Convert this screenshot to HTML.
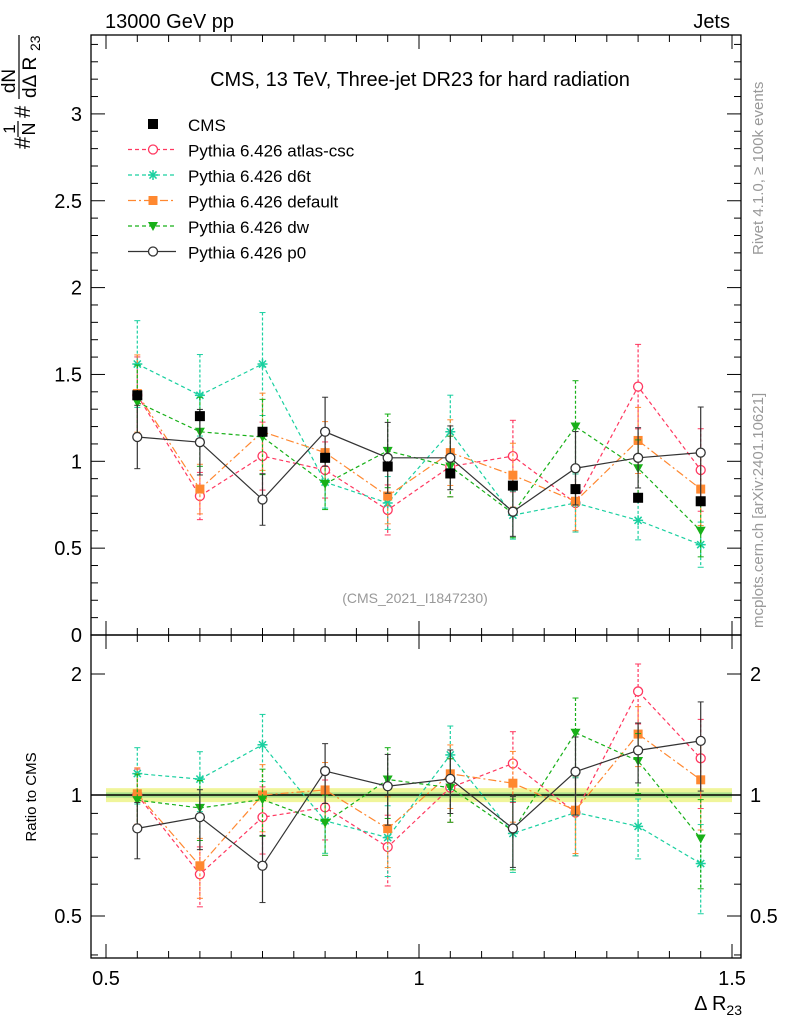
<!DOCTYPE html>
<html><head><meta charset="utf-8"><style>
body{margin:0;background:#fff;}
svg text{font-family:"Liberation Sans",sans-serif;}
</style></head><body>
<svg id="c" width="786" height="1024" xmlns="http://www.w3.org/2000/svg"></svg>
<script>
const binCenters=[0.55,0.65,0.75,0.85,0.95,1.05,1.15,1.25,1.35,1.45];
const cmsVals=[1.38,1.26,1.17,1.02,0.97,0.93,0.86,0.84,0.79,0.77];
const cmsErr=[0.03,0.03,0.03,0.03,0.03,0.03,0.03,0.03,0.03,0.03];
const atlasVals=[1.38,0.80,1.03,0.95,0.72,0.97,1.03,0.76,1.43,0.95];
const d6tVals=[1.56,1.38,1.56,0.88,0.76,1.17,0.69,0.76,0.66,0.52];
const defaultVals=[1.39,0.84,1.17,1.05,0.80,1.05,0.92,0.77,1.12,0.84];
const dwVals=[1.34,1.17,1.14,0.87,1.06,0.97,0.70,1.20,0.96,0.60];
const p0Vals=[1.14,1.11,0.78,1.17,1.02,1.02,0.71,0.96,1.02,1.05];
const mcRelErr=[0.16,0.17,0.19,0.17,0.2,0.18,0.2,0.22,0.17,0.25];
const mainTicks=[0,0.5,1,1.5,2,2.5,3];
const ratioTicks=[0.5,1,2];
const xTicks=[0.5,1,1.5];

const NS="http://www.w3.org/2000/svg";
const svg=document.getElementById('c');
function el(tag,attrs,parent){const e=document.createElementNS(NS,tag);for(const k in attrs)e.setAttribute(k,attrs[k]);(parent||svg).appendChild(e);return e;}
const L=91,R=741,T=35,M=635,B=958;
const xs=v=>106+(v-0.5)*626;
const ym=v=>635-v*173.7;
const yr=v=>795-Math.log2(v)*121;
function txt(x,y,s,size,anchor,fill,name){const t=el('text',{x:x,y:y,'font-size':size,'text-anchor':anchor||'start',fill:fill||'#000'});t.textContent=s;return t;}

// frames
let f1=el('rect',{x:L,y:T,width:R-L,height:M-T,fill:'none',stroke:'#000','stroke-width':1.3});

let f2=el('rect',{x:L,y:M,width:R-L,height:B-M,fill:'none',stroke:'#000','stroke-width':1.3});


// main y ticks
for(let v=0;v<=3.45;v+=0.1){const y=ym(v);if(y<T)break;const major=Math.abs(v/0.5-Math.round(v/0.5))<1e-6;const len=major?14:7;
 el('line',{x1:L,x2:L+len,y1:y,y2:y,stroke:'#000'});el('line',{x1:R,x2:R-len,y1:y,y2:y,stroke:'#000'});}
mainTicks.forEach(v=>txt(L-9,ym(v)+7,String(v),20,'end','#000','main-y-tick-label'));
// ratio y ticks (log)
[0.4,0.5,0.6,0.7,0.8,0.9,1,2].forEach(v=>{const y=yr(v);const major=ratioTicks.includes(v);const len=major?14:7;
 el('line',{x1:L,x2:L+len,y1:y,y2:y,stroke:'#000'});el('line',{x1:R,x2:R-len,y1:y,y2:y,stroke:'#000'});});
ratioTicks.forEach(v=>{txt(L-9,yr(v)+7,String(v),20,'end','#000','ratio-y-tick-label');txt(R+9,yr(v)+7,String(v),20,'start','#000','ratio-y-tick-label-right');});
// x ticks
for(let v=0.5;v<=1.5001;v+=0.05){const x=xs(v);const major=Math.abs(v*2-Math.round(v*2))<1e-6;const len=major?14:7;
 [[T,1],[M,1],[M,-1],[B,-1]].forEach(([y0,d])=>el('line',{x1:x,x2:x,y1:y0,y2:y0+d*len,stroke:'#000'}));}
xTicks.forEach(v=>txt(xs(v),985,String(v),20,'middle','#000','x-tick-label'));

// labels
txt(105,28,'13000 GeV pp',20,'start','#000','collision-label');
txt(730,28,'Jets',20,'end','#000','category-label');
txt(420,86,'CMS, 13 TeV, Three-jet DR23 for hard radiation',20,'middle','#000','plot-title');
txt(415,603,'(CMS_2021_I1847230)',14,'middle','#999','analysis-id');
let xl=el('text',{x:742,y:1010,'font-size':20,'text-anchor':'end'});xl.innerHTML='Δ R<tspan font-size="14" dy="5">23</tspan>';


// y-axis title (rotated fractions)
const yg=el('g',{transform:'rotate(-90)'});

function rt(x,y,s,size,anchor){const t=el('text',{x:x,y:y,'font-size':size,'text-anchor':anchor||'start'},yg);t.textContent=s;return t;}
rt(-149,30,'#',22);
rt(-129,15,'1',17,'middle');
el('line',{x1:-137,x2:-121,y1:18,y2:18,stroke:'#000','stroke-width':1.2},yg);
rt(-129,35,'N',18,'middle');
rt(-118,30,'#',22);
rt(-81,15,'dN',19,'middle');
el('line',{x1:-99,x2:-35,y1:19,y2:19,stroke:'#000','stroke-width':1.2},yg);
rt(-98,36,'dΔ R',19);
rt(-51,40,'23',14);

let rl=el('text',{transform:'translate(36,797) rotate(-90)','font-size':15,'text-anchor':'middle'});rl.textContent='Ratio to CMS';

let s1=el('text',{transform:'translate(763,255) rotate(-90)','font-size':15,fill:'#999'});s1.textContent='Rivet 4.1.0, ≥ 100k events';

let s2=el('text',{transform:'translate(763,628) rotate(-90)','font-size':15,fill:'#999'});s2.textContent='mcplots.cern.ch [arXiv:2401.10621]';


// ratio band
let band=el('rect',{x:xs(0.5),y:yr(1.04),width:xs(1.5)-xs(0.5),height:yr(0.96)-yr(1.04),fill:'#f0f59a'});

el('rect',{x:xs(0.5),y:yr(1.015),width:xs(1.5)-xs(0.5),height:yr(0.985)-yr(1.015),fill:'#a8e08a'});
el('line',{x1:L,x2:R,y1:yr(1),y2:yr(1),stroke:'#000','stroke-width':1.5});

function marker(g,type,x,y,color){
 if(type==='sq')el('rect',{x:x-5,y:y-5,width:10,height:10,fill:color},g);
 else if(type==='fsq')el('rect',{x:x-4.5,y:y-4.5,width:9,height:9,fill:color},g);
 else if(type==='oc')el('circle',{cx:x,cy:y,r:4.5,fill:'#fff',stroke:color,'stroke-width':1.3},g);
 else if(type==='star'){for(let a=0;a<4;a++){const t=a*Math.PI/4;el('line',{x1:x-5*Math.cos(t),y1:y-5*Math.sin(t),x2:x+5*Math.cos(t),y2:y+5*Math.sin(t),stroke:color,'stroke-width':1.5},g);}}
 else if(type==='tri')el('polygon',{points:`${x-5},${y-4} ${x+5},${y-4} ${x},${y+5}`,fill:color},g);
}
const series=[
 {name:'atlas-csc',vals:atlasVals,color:'#ff3860',dash:'4,3',m:'oc'},
 {name:'d6t',vals:d6tVals,color:'#1ad0a0',dash:'4,3',m:'star'},
 {name:'default',vals:defaultVals,color:'#ff8830',dash:'8,3,2,3',m:'fsq'},
 {name:'dw',vals:dwVals,color:'#18b018',dash:'4,3',m:'tri'},
 {name:'p0',vals:p0Vals,color:'#333',dash:'',m:'oc'}];
series.forEach(s=>{
 [['main',ym,s.vals],['ratio',yr,s.vals.map((v,i)=>v/cmsVals[i])]].forEach(([pn,yf,vals])=>{
  const g=el('g',{});
  const pts=vals.map((v,i)=>xs(binCenters[i])+','+yf(v)).join(' ');
  el('polyline',{points:pts,fill:'none',stroke:s.color,'stroke-width':1.2,'stroke-dasharray':s.dash},g);
  vals.forEach((v,i)=>{const x=xs(binCenters[i]);const e=v*mcRelErr[i];const y1=yf(v+e),y2=yf(Math.max(v-e,0.05));
   el('line',{x1:x,x2:x,y1:y1,y2:y2,stroke:s.color,'stroke-width':1.2,'stroke-dasharray':s.dash?'3,2':''},g);
   el('line',{x1:x-3,x2:x+3,y1:y1,y2:y1,stroke:s.color},g);el('line',{x1:x-3,x2:x+3,y1:y2,y2:y2,stroke:s.color},g);
   marker(g,s.m,x,yf(v),s.color);});
 });
});
// CMS data
const cg=el('g',{});
cmsVals.forEach((v,i)=>{const x=xs(binCenters[i]);el('line',{x1:x,x2:x,y1:ym(v+cmsErr[i]),y2:ym(v-cmsErr[i]),stroke:'#000'},cg);marker(cg,'sq',x,ym(v),'#000');});

// legend
const lg=el('g',{});
const ly0=124,ldy=25.5;
marker(lg,'sq',153,ly0,'#000');
let t0=el('text',{x:188,y:ly0+7,'font-size':17},lg);t0.textContent='CMS';
series.forEach((s,i)=>{const y=ly0+(i+1)*ldy;
 el('line',{x1:128,x2:176,y1:y,y2:y,stroke:s.color,'stroke-width':1.2,'stroke-dasharray':s.dash},lg);
 marker(lg,s.m,153,y,s.color);
 const t=el('text',{x:188,y:y+7,'font-size':17},lg);t.textContent='Pythia 6.426 '+s.name;});
</script>
</body></html>
